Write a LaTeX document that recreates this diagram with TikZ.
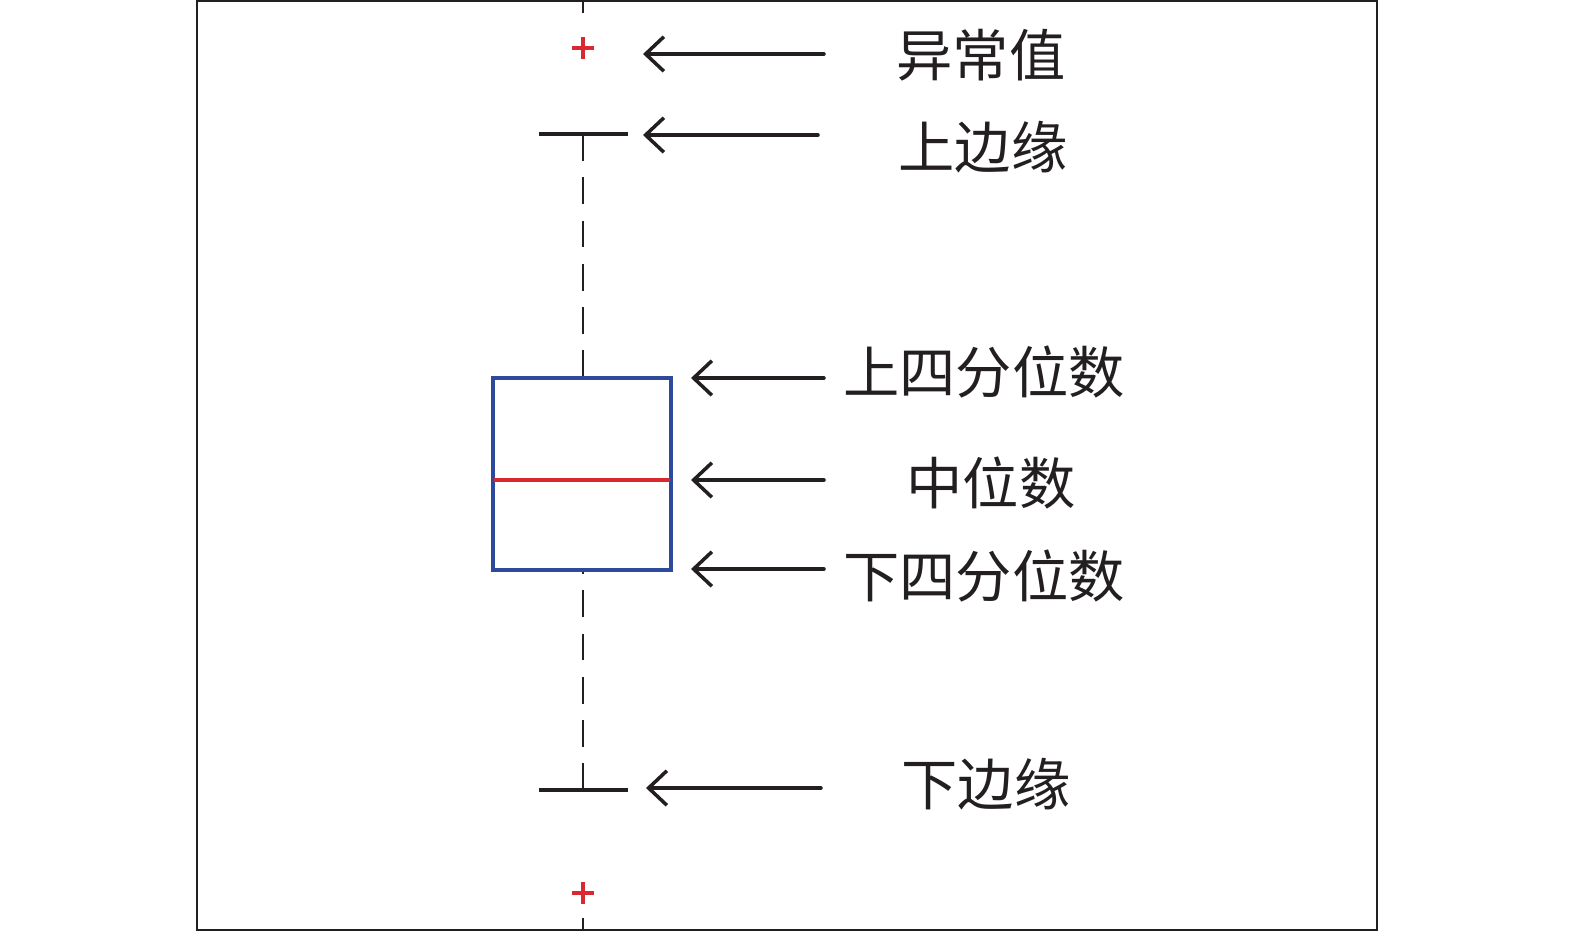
\documentclass[tikz,border=0pt]{standalone}
\usepackage{fontspec}
\newfontfamily\cjk{Noto Sans CJK SC}
\usetikzlibrary{arrows.meta}
\definecolor{ink}{HTML}{231F20}
\definecolor{boxblue}{HTML}{2E4A9A}
\definecolor{medred}{HTML}{D9282F}
\tikzset{
  frameline/.style={draw=ink, line width=0.6pt},
  capline/.style={draw=ink, line width=1pt},
  whisk/.style={draw=ink, line width=0.45pt, dash pattern=on 7.6pt off 4.7pt},
  ptr/.style={draw=ink, line width=1pt, line cap=round,
    arrows={-}, {Straight Barb[length=5.2pt,width=9.8pt,line width=1pt]}-},
  lbl/.style={font=\cjk\fontsize{16pt}{18pt}\selectfont, text=ink, inner sep=0pt},
  outl/.style={draw=medred, line width=1pt}
}
\begin{document}
\begin{tikzpicture}[x=0.01cm,y=-0.01cm]
\useasboundingbox (0,0) rectangle (1575,932);
% frame
\draw[frameline] (197,1) rectangle (1377,930);
% coordinates
\coordinate (wtop) at (583,1);
\coordinate (wtopend) at (583,13);
\coordinate (capU) at (583,134);
\coordinate (capL) at (583,790);
\coordinate (boxT) at (583,378);
\coordinate (boxB) at (583,570);
\coordinate (wbot) at (583,918);
\coordinate (wbotend) at (583,930);
% whiskers
\draw[ink, line width=0.45pt] (wtop) -- (wtopend);
\draw[ink, line width=0.45pt] (wbot) -- (wbotend);
\draw[whisk] (capU) -- (boxT);
\draw[whisk] (capL) -- (boxB);
% caps
\draw[capline] (539,134) -- (628,134);
\draw[capline] (539,790) -- (628,790);
% box
\draw[draw=boxblue, line width=1pt] (493,378) rectangle (671,570);
\draw[draw=medred, line width=1pt] (494,480) -- (670,480);
% outliers
\draw[outl] (572,48) -- (594,48) (583,37) -- (583,59);
\draw[outl] (572,893) -- (594,893) (583,882) -- (583,904);
% arrow endpoints
\coordinate (a1t) at (643,54);  \coordinate (a1s) at (824,54);
\coordinate (a2t) at (643,135); \coordinate (a2s) at (818,135);
\coordinate (a3t) at (691,378); \coordinate (a3s) at (824,378);
\coordinate (a4t) at (691,480); \coordinate (a4s) at (824,480);
\coordinate (a5t) at (691,569); \coordinate (a5s) at (824,569);
\coordinate (a6t) at (646,788); \coordinate (a6s) at (821,788);
\draw[ptr] (a1t) -- (a1s);
\draw[ptr] (a2t) -- (a2s);
\draw[ptr] (a3t) -- (a3s);
\draw[ptr] (a4t) -- (a4s);
\draw[ptr] (a5t) -- (a5s);
\draw[ptr] (a6t) -- (a6s);
% labels
\node[lbl] (l1) at (981,55) {异常值};
\node[lbl] (l2) at (983,147) {上边缘};
\node[lbl] (l3) at (984,372) {上四分位数};
\node[lbl] (l4) at (991,483) {中位数};
\node[lbl] (l5) at (984,576) {下四分位数};
\node[lbl] (l6) at (986,784) {下边缘};
\end{tikzpicture}
\end{document}
